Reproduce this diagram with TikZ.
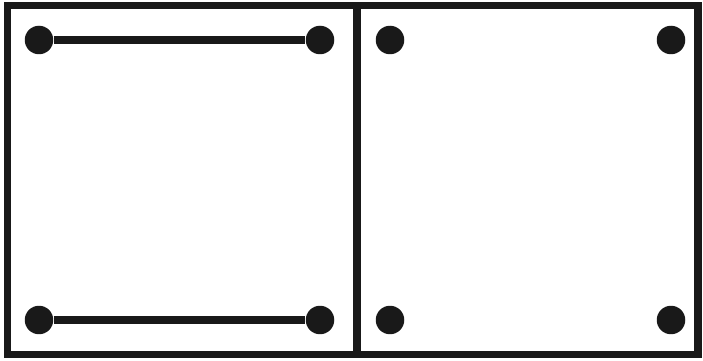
\documentclass[tikz,border=0pt]{standalone}
\usepackage{tikz}
\usetikzlibrary{positioning}

\begin{document}
\begin{tikzpicture}[x=0.02cm,y=-0.02cm,
  frame/.style={line width=4.5pt},
  pin/.style={circle,fill=black!90,inner sep=0pt,minimum size=0.57cm},
  bar/.style={line width=4pt,black!90}]
  \useasboundingbox (0,0) rectangle (703,361);
  % Outer frame and divider
  \draw[frame,black!90] (7.5,5.5) rectangle (698,354.5);
  \draw[frame,black!90] (357,5.5) -- (357,354.5);
  % Left panel
  \node[pin] (lt1) at (39,40) {};
  \node[pin] (lt2) at (320,40) {};
  \node[pin] (lb1) at (39,320) {};
  \node[pin] (lb2) at (320,320) {};
  \draw[bar] (lt1) -- (lt2);
  \draw[bar] (lb1) -- (lb2);
  % Right panel
  \node[pin] (rt1) at (390,40) {};
  \node[pin] (rt2) at (671,40) {};
  \node[pin] (rb1) at (390,320) {};
  \node[pin] (rb2) at (671,320) {};
\end{tikzpicture}
\end{document}
